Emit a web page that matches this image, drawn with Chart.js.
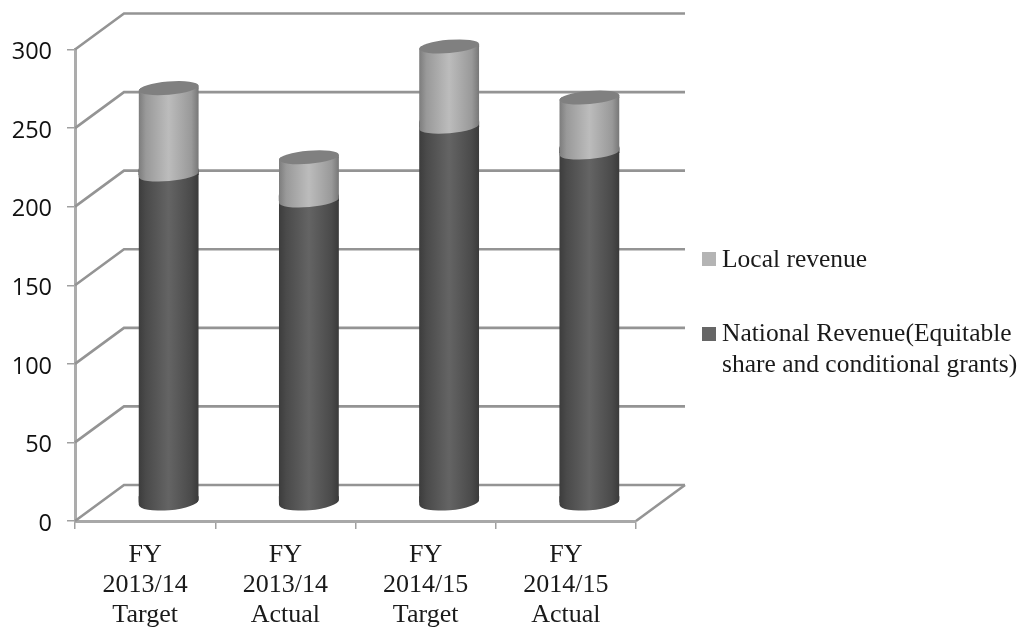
<!DOCTYPE html>
<html>
<head>
<meta charset="utf-8">
<style>html,body{margin:0;padding:0;background:#fff}#w{width:1023px;height:628px;position:relative}</style>
<script src="https://cdn.jsdelivr.net/npm/chart.js@4"></script>
</head>
<body>
<div id="w"><canvas id="c" width="1023" height="628"></canvas></div>
<script>
const categories = [['FY','2013/14','Target'],['FY','2013/14','Actual'],['FY','2014/15','Target'],['FY','2014/15','Actual']];
const nationalRevenue = [209, 192.5, 239.5, 223];
const localRevenue = [55, 27.5, 51, 35];
const seriesNames = ['National Revenue(Equitable', 'share and conditional grants)'];
const localName = 'Local revenue';
const yTicks = [0, 50, 100, 150, 200, 250, 300];

const DEPTH_X = 49, DEPTH_Y = 36, SHIFT_X = 23.5, SHIFT_Y = 18;
const RX = 30, RY = 6.6, RY_BASE = 8, TILT = -0.085;

function grad(ctx, x, stops) {
  const g = ctx.createLinearGradient(x - RX, 0, x + RX, 0);
  stops.forEach(s => g.addColorStop(s[0], s[1]));
  return g;
}
function barFill(c, stops, flat) {
  const s = c.chart.scales.x;
  const px = s ? s.getPixelForValue(c.dataIndex) : NaN;
  return Number.isFinite(px) ? grad(c.chart.ctx, px, stops) : flat;
}
const DARK = [[0,'#3c3c3c'],[0.12,'#4a4a4a'],[0.5,'#646464'],[0.88,'#4a4a4a'],[1,'#3a3a3a']];
const LIGHT = [[0,'#7c7c7c'],[0.12,'#999'],[0.5,'#bcbcbc'],[0.88,'#999'],[1,'#777']];

const cylinder3d = {
  id: 'cylinder3d',
  beforeDatasetsDraw(chart) {
    const {ctx, chartArea: a, scales: {y}} = chart;
    ctx.save();
    ctx.strokeStyle = '#949494';
    ctx.lineWidth = 2.6;
    yTicks.forEach(v => {
      const py = y.getPixelForValue(v);
      ctx.beginPath();
      ctx.moveTo(a.left, py);
      ctx.lineTo(a.left + DEPTH_X, py - DEPTH_Y);
      ctx.lineTo(a.right + DEPTH_X, py - DEPTH_Y);
      ctx.stroke();
    });
    ctx.beginPath();
    ctx.moveTo(a.right, y.getPixelForValue(0));
    ctx.lineTo(a.right + DEPTH_X, y.getPixelForValue(0) - DEPTH_Y);
    ctx.stroke();
    ctx.restore();

    ctx.save();
    ctx.translate(SHIFT_X, -SHIFT_Y);
    const bars0 = chart.getDatasetMeta(0).data, bars1 = chart.getDatasetMeta(1).data;
    bars0.forEach(b => {
      ctx.fillStyle = grad(ctx, b.x, DARK);
      ctx.beginPath();
      ctx.ellipse(b.x, b.base, RX, RY_BASE, TILT, 0, Math.PI);
      ctx.lineTo(b.x - RX, b.base - 6);
      ctx.lineTo(b.x + RX, b.base - 6);
      ctx.closePath();
      ctx.fill();
    });
    ctx.beginPath();
    bars1.forEach((b, i) => {
      const base = bars0[i].base;
      ctx.moveTo(b.x + RX, b.y);
      ctx.lineTo(b.x + RX, b.y - 3);
      ctx.ellipse(b.x, b.y, RX, RY, TILT, 0, Math.PI, true);
      ctx.lineTo(b.x - RX, base - 6);
      ctx.ellipse(b.x, base, RX, RY_BASE, TILT, Math.PI, 0, true);
      ctx.closePath();
    });
    ctx.clip();
  },
  afterDatasetsDraw(chart) {
    const {ctx} = chart;
    ctx.restore();
    ctx.save();
    ctx.translate(SHIFT_X, -SHIFT_Y);
    const bars0 = chart.getDatasetMeta(0).data, bars1 = chart.getDatasetMeta(1).data;
    bars0.forEach(b => {
      ctx.fillStyle = grad(ctx, b.x, DARK);
      ctx.fillRect(b.x - RX, b.y - 5, 2 * RX, 5.5);
      ctx.fillStyle = grad(ctx, b.x, LIGHT);
      ctx.beginPath();
      ctx.ellipse(b.x, b.y, RX, RY, TILT, 0, Math.PI);
      ctx.lineTo(b.x - RX, b.y - 6);
      ctx.lineTo(b.x + RX, b.y - 6);
      ctx.closePath();
      ctx.fill();
    });
    bars1.forEach(b => {
      ctx.fillStyle = grad(ctx, b.x, LIGHT);
      ctx.fillRect(b.x, b.y - 2.6, RX, 3);
      ctx.fillStyle = '#808080';
      ctx.beginPath();
      ctx.ellipse(b.x, b.y, RX, RY, TILT, 0, 2 * Math.PI);
      ctx.fill();
    });
    ctx.restore();
  },
  afterDraw(chart) {
    const {ctx} = chart;
    ctx.save();
    ctx.fillStyle = '#b4b4b4';
    ctx.fillRect(702, 252, 14, 14);
    ctx.fillStyle = '#666666';
    ctx.fillRect(702, 327, 14, 14);
    ctx.fillStyle = '#1a1a1a';
    ctx.font = '25.5px "Liberation Serif"';
    ctx.textBaseline = 'alphabetic';
    ctx.fillText(localName, 722, 267);
    ctx.fillText(seriesNames[0], 722, 341);
    ctx.fillText(seriesNames[1], 722, 372);
    ctx.restore();
  }
};

new Chart(document.getElementById('c'), {
  type: 'bar',
  data: {
    labels: categories,
    datasets: [
      {label: seriesNames.join(' '), data: nationalRevenue, barThickness: 60,
       backgroundColor: c => barFill(c, DARK, '#666666')},
      {label: localName, data: localRevenue, barThickness: 60,
       backgroundColor: c => barFill(c, LIGHT, '#b4b4b4')}
    ]
  },
  options: {
    responsive: false,
    animation: false,
    events: [],
    layout: {padding: {top: 49.5, right: 387, left: 0, bottom: 0}},
    plugins: {legend: {display: false}, tooltip: {enabled: false}, title: {display: false}},
    scales: {
      x: {
        stacked: true,
        afterFit: s => { s.height = 107; },
        border: {color: '#a8a8a8', width: 3},
        grid: {drawOnChartArea: false, drawTicks: true, tickLength: 8, color: '#a0a0a0', lineWidth: 1.5, offset: true},
        ticks: {maxRotation: 0, minRotation: 0, autoSkip: false, color: '#1a1a1a', padding: 11,
                font: {family: '"Liberation Serif"', size: 26, lineHeight: 1.154}}
      },
      y: {
        stacked: true, min: 0, max: 300,
        afterFit: s => { s.width = 75; },
        afterBuildTicks: s => { s.ticks = yTicks.map(v => ({value: v})); },
        border: {color: '#acacac', width: 3},
        grid: {drawOnChartArea: false, drawTicks: true, tickLength: 8, color: '#a0a0a0', lineWidth: 1.5},
        ticks: {color: '#111', padding: 15, labelOffset: 3, font: {family: '"Open Sans"', size: 23.5}}
      }
    }
  },
  plugins: [cylinder3d]
});
</script>
</body>
</html>
